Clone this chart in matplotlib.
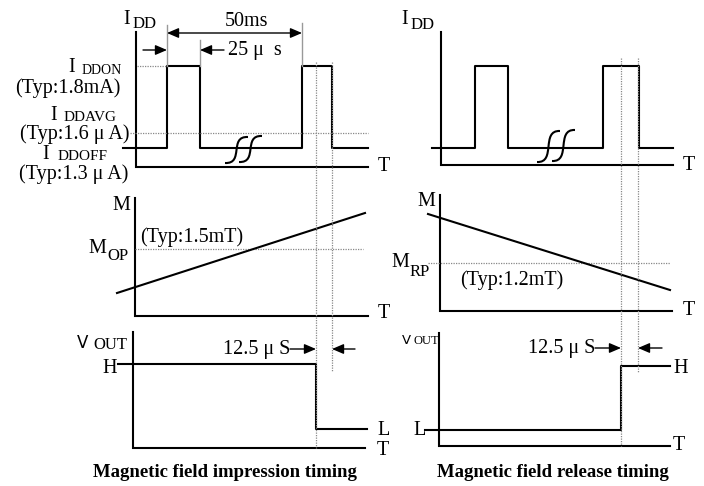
import matplotlib
matplotlib.use("Agg")
import matplotlib.pyplot as plt
from matplotlib.path import Path
from matplotlib.patches import PathPatch

# Diagram drawn in pixel-like units (x to the right, y downward)
SERIF = "Liberation Serif"
BIG = 14.5

# ---- I_DD pulses (left: impression, right: release) ----
idd_t_left = [123, 167, 167, 200, 200, 302, 302, 332, 332, 368]
idd_t_right = [432, 475, 475, 508, 508, 603, 603, 639, 639, 673]
idd_levels = [148, 148, 66, 66, 148, 148, 66, 66, 148, 148]
idd_avg_level = 133

# ---- magnetic field ramps ----
m_ramp_left_t = [117, 365]
m_ramp_left_v = [293, 213]
m_ramp_right_t = [428, 670]
m_ramp_right_v = [214, 290]
m_op_level = 249
m_rp_level = 263

# ---- V_OUT ----
vout_t_left = [118, 316, 316, 367]
vout_v_left = [364, 364, 429, 429]
vout_t_right = [425, 621, 621, 670]
vout_v_right = [430, 430, 366, 366]

# timing markers (switch instant and +12.5us)
switch_left = [316, 332]
switch_right = [621, 638]

fig = plt.figure(figsize=(7.04, 4.86), dpi=100)
ax = fig.add_axes([0, 0, 1, 1])
ax.set_xlim(0, 704)
ax.set_ylim(486, 0)
ax.axis("off")

LW = 1.5
DOT = dict(color="#888888", lw=0.9, linestyle=(0, (1, 1)))


def axes_frame(x0, ytop, ybot, xend):
    ax.plot([x0, x0, xend], [ytop, ybot, ybot], color="black", lw=LW,
            solid_joinstyle="miter")


def squiggle(x0, ytop, ybot, w):
    # slanted S-shaped break mark
    verts = [(x0, ybot), (x0 + w * 0.85, ybot + 1), (x0 + w * 0.15, ytop - 1), (x0 + w, ytop)]
    codes = [Path.MOVETO, Path.CURVE4, Path.CURVE4, Path.CURVE4]
    ax.add_patch(PathPatch(Path(verts, codes), fill=False, lw=LW, color="black"))


def txt(x, y, s, size=BIG, ha="left", **kw):
    kw.setdefault("family", SERIF)
    ax.text(x, y, s, fontsize=size, ha=ha, va="center", **kw)


def arrow(x_from, x_to, y):
    ax.annotate("", xy=(x_to, y), xytext=(x_from, y),
                arrowprops=dict(arrowstyle="-|>,head_length=0.7,head_width=0.3",
                                color="black", lw=1.0, shrinkA=0, shrinkB=0))


# ================= LEFT =================
# I_DD panel
axes_frame(136, 32, 167, 368)
ax.plot(idd_t_left, idd_levels, color="black", lw=LW)
ax.plot([137, idd_t_left[1]], [idd_levels[2]] * 2, **DOT)
ax.plot([130, idd_t_left[-1]], [idd_avg_level] * 2, **DOT)
squiggle(225, 137, 163, 23)
squiggle(239, 136, 162, 23)
txt(123, 19, "I")
txt(133, 24, "DD", size=12)
txt(378, 166, "T")
txt(75, 68, "I", ha="right")
txt(122, 70, "DDON", size=10, ha="right")
txt(121, 88, "(Typ:1.8mA)", ha="right")
txt(50, 115, "I")
txt(117, 117, "DDAVG", size=11, ha="right")
txt(129, 134, "(Typ:1.6 μ A)", ha="right")
txt(42, 154, "I")
txt(108, 156, "DDOFF", size=11, ha="right")
txt(128, 174, "(Typ:1.3 μ A)", ha="right")

# 50ms / 25us dimensions
for x, y0 in [(167, 25), (302, 23)]:
    ax.plot([x, x], [y0, 66], color="#999999", lw=1.0)
ax.plot([200, 200], [40, 66], color="#999999", lw=1.0)
ax.annotate("", xy=(167, 33), xytext=(302, 33),
            arrowprops=dict(arrowstyle="<|-|>,head_length=0.7,head_width=0.3",
                            color="black", lw=1.0, shrinkA=0, shrinkB=0))
txt(247, 22, "50ms", ha="center")
arrow(143, 167, 50)
arrow(224, 200, 50)
txt(228, 50, "25 μ  s")

# M panel
axes_frame(135, 198, 316, 368)
ax.plot([135, 363], [m_op_level] * 2, **DOT)
ax.plot(m_ramp_left_t, m_ramp_left_v, color="black", lw=LW)
txt(112, 205, "M")
txt(88, 248, "M")
txt(107, 256, "OP", size=12)
txt(140, 237, "(Typ:1.5mT)")
txt(378, 313, "T")

# V_OUT panel
axes_frame(133, 332, 448, 365)
ax.plot(vout_t_left, vout_v_left, color="black", lw=LW)
txt(77, 343, "V", size=12, family="DejaVu Sans")
txt(93, 345, "OUT", size=12)
txt(102, 368, "H")
txt(377, 430, "L")
txt(377, 450, "T")
txt(290, 349, "12.5 μ S", ha="right")
arrow(290, switch_left[0], 349)
arrow(355, switch_left[1], 349)

# switching markers through all panels
ax.plot([switch_left[0]] * 2, [62, 448], **DOT)
ax.plot([switch_left[1]] * 2, [62, 372], **DOT)

txt(225, 472, "Magnetic field impression timing", size=13.5, ha="center",
    weight="bold")

# ================= RIGHT =================
axes_frame(441, 32, 165, 673)
ax.plot(idd_t_right, idd_levels, color="black", lw=LW)
squiggle(537, 131, 162, 23)
squiggle(552, 130, 161, 23)
txt(401, 19, "I")
txt(411, 25, "DD", size=12)
txt(683, 165, "T")

axes_frame(440, 195, 311, 672)
ax.plot([428, 670], [m_rp_level] * 2, **DOT)
ax.plot(m_ramp_right_t, m_ramp_right_v, color="black", lw=LW)
txt(417, 201, "M")
txt(391, 262, "M")
txt(410, 272, "RP", size=12)
txt(460, 280, "(Typ:1.2mT)")
txt(683, 310, "T")

axes_frame(439, 333, 446, 670)
ax.plot(vout_t_right, vout_v_right, color="black", lw=LW)
txt(402, 340, "V", size=9.5, family="DejaVu Sans")
txt(414, 341, "OUT", size=9)
txt(413, 430, "L")
txt(673, 368, "H")
txt(673, 445, "T")
txt(595, 348, "12.5 μ S", ha="right")
arrow(595, switch_right[0], 348)
arrow(662, switch_right[1], 348)

ax.plot([switch_right[0]] * 2, [58, 446], **DOT)
ax.plot([switch_right[1]] * 2, [58, 372], **DOT)

txt(553, 472, "Magnetic field release timing", size=13.5, ha="center",
    weight="bold")

fig.savefig("out.png", dpi=100)
